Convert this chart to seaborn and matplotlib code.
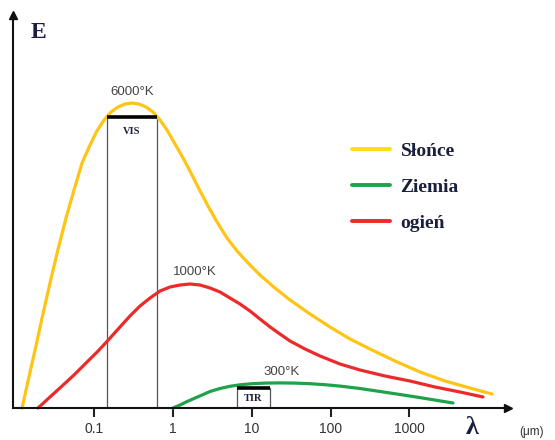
import numpy as np
import pandas as pd
import matplotlib
matplotlib.use("Agg")
import matplotlib.pyplot as plt
import seaborn as sns

# Spectral emission curves (wavelength in micrometres, emission in arbitrary units)
sun_lam = [0.0121, 0.0144, 0.0177, 0.0217, 0.0274, 0.0347, 0.0438, 0.0553, 0.0699,
           0.0883, 0.108, 0.133, 0.163, 0.2, 0.246, 0.301, 0.37, 0.454, 0.557,
           0.684, 0.839, 1.06, 1.34, 1.69, 2.14, 2.78, 3.62, 4.85, 6.5, 8.97,
           12.7, 19.7, 30.6, 54.9, 98.6, 177, 317, 659, 1370, 2840, 5910, 11240]
sun_E = [0, 27, 58, 90, 125, 159, 190, 218, 245,
         263, 277, 288, 296, 301, 304, 305, 304, 301, 296,
         288, 278, 264, 250, 235, 219, 202, 186, 170, 157, 145,
         133, 120, 108, 94, 81, 69, 59, 47, 36, 27, 20, 14]

fire_lam = [0.0193, 0.0274, 0.039, 0.0553, 0.0786, 0.112, 0.159, 0.212, 0.284,
            0.381, 0.511, 0.684, 0.916, 1.23, 1.64, 2.2, 2.95, 3.95, 5.29,
            7.09, 9.5, 12.7, 17.1, 22.8, 30.6, 47.5, 73.6, 132, 237, 492,
            1022, 2123, 4411, 8641]
fire_E = [0, 11, 22, 33, 45, 57, 70, 81, 92,
          102, 110, 117, 121, 123, 124, 123, 120, 116, 110,
          104, 97, 89, 81, 74, 67, 59, 52, 44, 38, 32,
          27, 21, 16, 11]

earth_lam = [1.0, 1.23, 1.51, 1.85, 2.34, 2.95, 3.95, 5.29, 7.09, 10.1, 14.7,
             22.8, 35.4, 54.9, 85.2, 132, 237, 425, 763, 1369, 2251, 3594]
earth_E = [0, 3, 6.5, 9.5, 13, 16.5, 19.5, 21.7, 23.2, 24.3, 24.9,
           25.1, 24.9, 24.3, 23.3, 21.9, 19.5, 16.5, 13.5, 10.4, 7.6, 5]

series_names = ["Słońce", "Ziemia", "ogień"]
series_colors = ["#FFC414", "#1FA24A", "#EC2A2A"]
legend_colors = ["#FFDD10", "#1FA24A", "#EC2A2A"]
temp_labels = ["6000°K", "1000°K", "300°K"]
temp_pos = [(0.3, 316), (1.9, 136), (24, 36)]

tick_vals = [0.1, 1, 10, 100, 1000]
tick_text = ["0.1", "1", "10", "100", "1000"]

vis_band = (0.145, 0.63)
vis_top = 291
tir_band = (6.5, 17)
tir_top = 20

df = pd.concat([
    pd.DataFrame({"lam": sun_lam, "E": sun_E, "źródło": "Słońce"}),
    pd.DataFrame({"lam": earth_lam, "E": earth_E, "źródło": "Ziemia"}),
    pd.DataFrame({"lam": fire_lam, "E": fire_E, "źródło": "ogień"}),
], ignore_index=True)

sns.set_theme(style="white")
plt.rcParams["font.family"] = ["Liberation Sans", "DejaVu Sans"]

fig = plt.figure(figsize=(5.55, 4.4), dpi=100)
ax = fig.add_axes([0, 0, 1, 1])
ax.set_xscale("log")
ax.set_xlim(0.00635, 70960)
ax.set_ylim(-32, 408)

sns.lineplot(data=df, x="lam", y="E", hue="źródło", hue_order=series_names,
             palette=series_colors, estimator=None, sort=False, lw=2.3, ax=ax,
             legend=True)
for ln in ax.get_lines():
    ln.set_solid_joinstyle("round")

# Axes drawn as arrows
y_axis_x = 0.00929
x_axis_end = 17950
for s in ["top", "right"]:
    ax.spines[s].set_visible(False)
ax.spines["bottom"].set_position(("data", 0))
ax.spines["left"].set_position(("data", y_axis_x))
ax.spines["bottom"].set_bounds(y_axis_x, x_axis_end)
ax.spines["left"].set_bounds(0, 393)
for s in ["bottom", "left"]:
    ax.spines[s].set_color("#111111")
    ax.spines[s].set_linewidth(1.5)
    ax.spines[s].set_zorder(5)
ax.plot([x_axis_end], [0], marker=">", ms=6, color="#111111", clip_on=False, zorder=6)
ax.plot([y_axis_x], [393], marker="^", ms=6, color="#111111", clip_on=False, zorder=6)

ax.set_xticks(tick_vals)
ax.set_xticklabels(tick_text)
ax.xaxis.set_minor_locator(matplotlib.ticker.NullLocator())
ax.set_yticks([])
ax.tick_params(axis="x", direction="out", length=6.5, width=1.5, color="#222222",
               pad=3.5, labelsize=10, labelcolor="#333333", bottom=True)
ax.set_xlabel("")
ax.set_ylabel("")
ax.grid(False)

# Spectral bands
navy = "#1a1f3d"
for (lo, hi), top, name, ty in [(vis_band, vis_top, "VIS", vis_top - 14),
                                (tir_band, tir_top, "TIR", tir_top / 2)]:
    ax.plot([lo, lo], [0, top], color="#555555", lw=0.9, zorder=1)
    ax.plot([hi, hi], [0, top], color="#555555", lw=0.9, zorder=1)
    ax.plot([lo, hi], [top, top], color="black", lw=2.6, zorder=4, solid_capstyle="butt")
    ax.text(np.sqrt(lo * hi), ty, name, ha="center", va="center", fontsize=7.5,
            fontweight="bold", family="Liberation Serif", color=navy)

# Temperature labels
for (lx, ly), t in zip(temp_pos, temp_labels):
    ax.text(lx, ly, t, ha="center", va="center", fontsize=9.5, color="#444444")

# Axis names
ax.text(0.00635 * 10 ** (38 / 78.75), 376, "E", ha="center", va="center",
        fontsize=17, fontweight="bold", family="Liberation Serif", color=navy)
ax.text(10 ** ((472 - 173) / 78.75), -19, "λ", ha="center", va="center",
        fontsize=19, fontweight="bold", family="Liberation Serif", color=navy)
ax.text(10 ** ((519 - 173) / 78.75), -24, "(μm)", ha="left", va="center",
        fontsize=8.5, color="#333333")

# Legend
handles, labels = ax.get_legend_handles_labels()
leg = ax.legend(handles, labels, loc="center left", bbox_to_anchor=(352 / 555, 1 - 187 / 440),
                bbox_transform=fig.transFigure, frameon=False, borderpad=0,
                borderaxespad=0, handlelength=1.95, handletextpad=0.55,
                labelspacing=0.95, prop={"family": "Liberation Serif", "weight": "bold", "size": 14})
for t in leg.get_texts():
    t.set_color(navy)
for h, c in zip(leg.get_lines(), legend_colors):
    h.set_linewidth(2.8)
    h.set_color(c)

fig.savefig("out.png", dpi=100)
